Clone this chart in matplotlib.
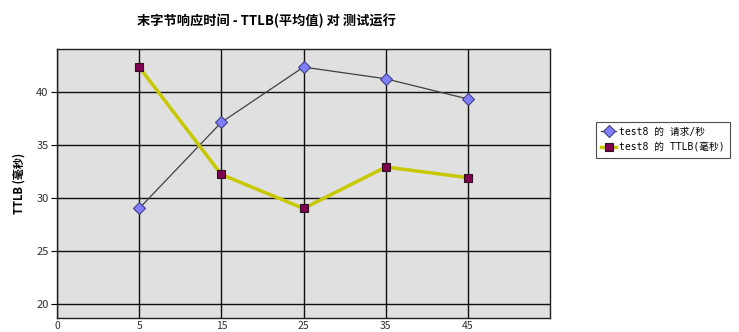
import matplotlib
matplotlib.use("Agg")
import matplotlib.pyplot as plt

plt.rcParams['font.family'] = ['Noto Sans CJK SC', 'DejaVu Sans']

categories = ["5", "15", "25", "35", "45"]
x_labels = ["0", "5", "15", "25", "35", "45"]
requests_per_sec = [29.0, 37.1, 42.3, 41.2, 39.3]
ttlb_ms = [42.3, 32.2, 29.0, 32.9, 31.9]
y_ticks = [20, 25, 30, 35, 40]

title = "末字节响应时间 - TTLB(平均值) 对 测试运行"
ylabel = "TTLB (毫秒)"
series_names = ["test8 的 请求/秒", "test8 的 TTLB(毫秒)"]

fig = plt.figure(figsize=(7.39, 3.32), dpi=100)
W, H = 739, 332
left, right, top, bottom = 57, 550, 49, 318
ax = fig.add_axes([left / W, 1 - bottom / H, (right - left) / W, (bottom - top) / H])
ax.set_facecolor("#E0E0E0")

xpos = list(range(1, len(categories) + 1))
ax.plot(xpos, requests_per_sec, color="#404040", lw=0.9, marker="D", ms=6,
        mfc="#8080FF", mec="#404080", mew=0.8, label=series_names[0], zorder=3)
ax.plot(xpos, ttlb_ms, color="#C8C800", lw=2.5, marker="s", ms=6,
        mfc="#800050", mec="#301020", mew=0.8, label=series_names[1], zorder=3)

ax.set_xlim(0, 6)
ax.set_ylim(18.7, 44.0)
ax.set_xticks(range(0, 6))
ax.set_xticklabels(x_labels)
ax.set_yticks(y_ticks)
ax.grid(True, color="#101010", lw=1.0, zorder=0)
ax.set_axisbelow(True)
for s in ax.spines.values():
    s.set_color("#202020")
    s.set_linewidth(1.0)
ax.tick_params(axis="x", length=0, pad=2, labelsize=7.5, labelcolor="#303030")
ax.tick_params(axis="y", length=4, width=0.8, pad=2, labelsize=8, labelcolor="#303030")

ax.set_ylabel(ylabel, fontsize=8, fontweight="bold", labelpad=8)
fig.text(266 / W, 1 - 21 / H, title, ha="center", va="center",
         fontsize=9.5, fontweight="bold")

leg = fig.legend(loc="upper left", bbox_to_anchor=(596 / W, 1 - 122 / H),
                 frameon=True, fancybox=False, handlelength=1.6,
                 borderpad=0.5, labelspacing=0.6, handletextpad=0.3,
                 borderaxespad=0,
                 prop={'family': ['DejaVu Sans Mono', 'Noto Sans CJK SC'], 'size': 7})
leg.get_frame().set_edgecolor("#202020")
leg.get_frame().set_linewidth(0.8)

fig.savefig("out.png", dpi=100)
